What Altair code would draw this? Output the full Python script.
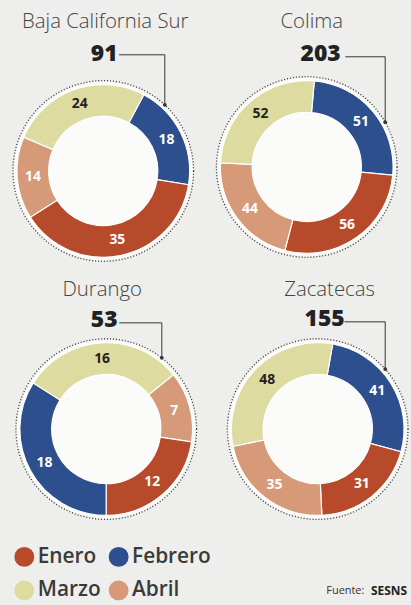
import math
import altair as alt
import pandas as pd

# ---- data ----
estados = ["Baja California Sur", "Colima", "Durango", "Zacatecas"]
meses = ["Enero", "Febrero", "Marzo", "Abril"]
enero = [35, 56, 12, 31]
febrero = [18, 51, 18, 41]
marzo = [24, 52, 16, 48]
abril = [14, 44, 7, 35]
totales = [91, 203, 53, 155]
secuencia = [
    ["Febrero", "Enero", "Abril", "Marzo"],
    ["Febrero", "Enero", "Abril", "Marzo"],
    ["Abril", "Enero", "Febrero", "Marzo"],
    ["Febrero", "Enero", "Abril", "Marzo"],
]
fuente = "SESNS"

# ---- styles / layout ----
colores = ["#b84a2c", "#2d4f8e", "#dedba0", "#d69a78"]
BG = "#eeeeec"
R_IN, R_OUT, R_DOT = 55, 87, 91
layout = [
    dict(cx=104, cy=170, tx=106, ty=20, nx=105, ny=52, lx0=120, lx=166, ly=53, start=28),
    dict(cx=104, cy=166, tx=109, ty=20, nx=118, ny=52, lx0=143, lx=183, ly=55, start=5),
    dict(cx=107, cy=162, tx=103, ty=22, nx=105, ny=52, lx0=120, lx=163, ly=55, start=51),
    dict(cx=115, cy=162, tx=127, ty=22, nx=122, ny=51, lx0=142, lx=183, ly=54, start=10),
]
widths = [205, 206]
heights = [268, 267]

color_scale = alt.Scale(domain=meses, range=colores)
legend = alt.Legend(
    orient="none", legendX=14, legendY=548, columns=2, title=None,
    values=["Enero", "Marzo", "Febrero", "Abril"],
    symbolType="circle", symbolSize=400, symbolStrokeWidth=0,
    labelFont="Open Sans", labelFontSize=21, labelFontWeight=600, labelColor="#3a3a3a",
    labelOffset=3, columnPadding=7, rowPadding=12, symbolOpacity=1,
)


def panel(i, w, h):
    L = layout[i]
    vals = {"Enero": enero[i], "Febrero": febrero[i], "Marzo": marzo[i], "Abril": abril[i]}
    df = pd.DataFrame({
        "mes": secuencia[i],
        "valor": [vals[m] for m in secuencia[i]],
        "orden": list(range(len(secuencia[i]))),
    })
    s = math.radians(L["start"])
    tscale = alt.Scale(range=[s, s + 2 * math.pi])
    cx, cy = L["cx"], L["cy"]
    base = alt.Chart(df)

    info = alt.Chart(pd.DataFrame({"estado": [estados[i]], "total": [totales[i]]}))

    halo = info.mark_point(shape="circle", filled=True, fill="#fbfbf9", opacity=1,
                           size=4 * (R_DOT - 1) ** 2, strokeWidth=0).encode(
        x=alt.value(cx), y=alt.value(cy))
    dots = info.mark_point(shape="circle", filled=False, stroke="#333", strokeWidth=1.3,
                           strokeDash=[1, 2], opacity=1,
                           size=4 * R_DOT ** 2).encode(
        x=alt.value(cx), y=alt.value(cy))

    arcs = base.mark_arc(innerRadius=R_IN, outerRadius=R_OUT, stroke="#ffffff",
                         strokeWidth=1.2).encode(
        theta=alt.Theta("valor:Q", stack=True, scale=tscale),
        order=alt.Order("orden:Q"),
        color=alt.Color("mes:N", scale=color_scale,
                        legend=legend if i == 0 else None),
        x=alt.value(cx), y=alt.value(cy),
    )
    labels = base.mark_text(radius=(R_IN + R_OUT) / 2, font="Open Sans", fontSize=14,
                            fontWeight="bold").encode(
        theta=alt.Theta("valor:Q", stack=True, scale=tscale),
        order=alt.Order("orden:Q"),
        text=alt.Text("valor:Q"),
        color=alt.condition(alt.datum.mes == "Marzo", alt.value("#222222"),
                            alt.value("#ffffff")),
        x=alt.value(cx), y=alt.value(cy),
    )
    title = info.mark_text(font="Open Sans", fontSize=20.5, fontWeight=300,
                           color="#444", align="center", baseline="middle").encode(
        text="estado:N", x=alt.value(L["tx"]), y=alt.value(L["ty"]))
    total = info.mark_text(font="Open Sans", fontSize=23, fontWeight=800,
                           color="#222", align="center", baseline="middle").encode(
        text="total:Q", x=alt.value(L["nx"]), y=alt.value(L["ny"]))

    dx = L["lx"] - cx
    yend = cy - math.sqrt(max(R_DOT ** 2 - dx ** 2, 0))
    hline = info.mark_rule(color="#333", strokeWidth=1).encode(
        x=alt.value(L["lx0"]), x2=alt.value(L["lx"]),
        y=alt.value(L["ly"]), y2=alt.value(L["ly"]))
    vline = info.mark_rule(color="#333", strokeWidth=1).encode(
        x=alt.value(L["lx"]), x2=alt.value(L["lx"]),
        y=alt.value(L["ly"]), y2=alt.value(yend))
    tip = info.mark_point(shape="circle", filled=True, color="#333", size=14,
                          opacity=1).encode(x=alt.value(L["lx"]), y=alt.value(yend))

    return alt.layer(halo, arcs, labels, dots, title, total, hline, vline, tip).resolve_scale(
        theta="independent").properties(width=w, height=h)


row1 = alt.hconcat(panel(0, widths[0], heights[0]), panel(1, widths[1], heights[0]),
                   spacing=0).resolve_scale(theta="independent")
row2 = alt.hconcat(panel(2, widths[0], heights[1]), panel(3, widths[1], heights[1]),
                   spacing=0).resolve_scale(theta="independent")

src = alt.Chart(pd.DataFrame({"f": [fuente]}))
bottom = alt.layer(
    src.mark_text(font="Open Sans", fontSize=11, color="#333", align="right",
                  baseline="middle", text="Fuente:").encode(x=alt.value(367), y=alt.value(58)),
    src.mark_text(font="Open Sans", fontSize=12, fontWeight="bold", color="#222",
                  align="right", baseline="middle").encode(
        text="f:N", x=alt.value(410), y=alt.value(58)),
).properties(width=411, height=70)

chart = alt.vconcat(row1, row2, bottom, spacing=0).resolve_scale(
    theta="independent", color="shared").properties(
    padding=0, background=BG
).configure_view(stroke=None).configure_concat(spacing=0)

chart.save("out.html", embed_options={"renderer": "svg", "actions": False})
